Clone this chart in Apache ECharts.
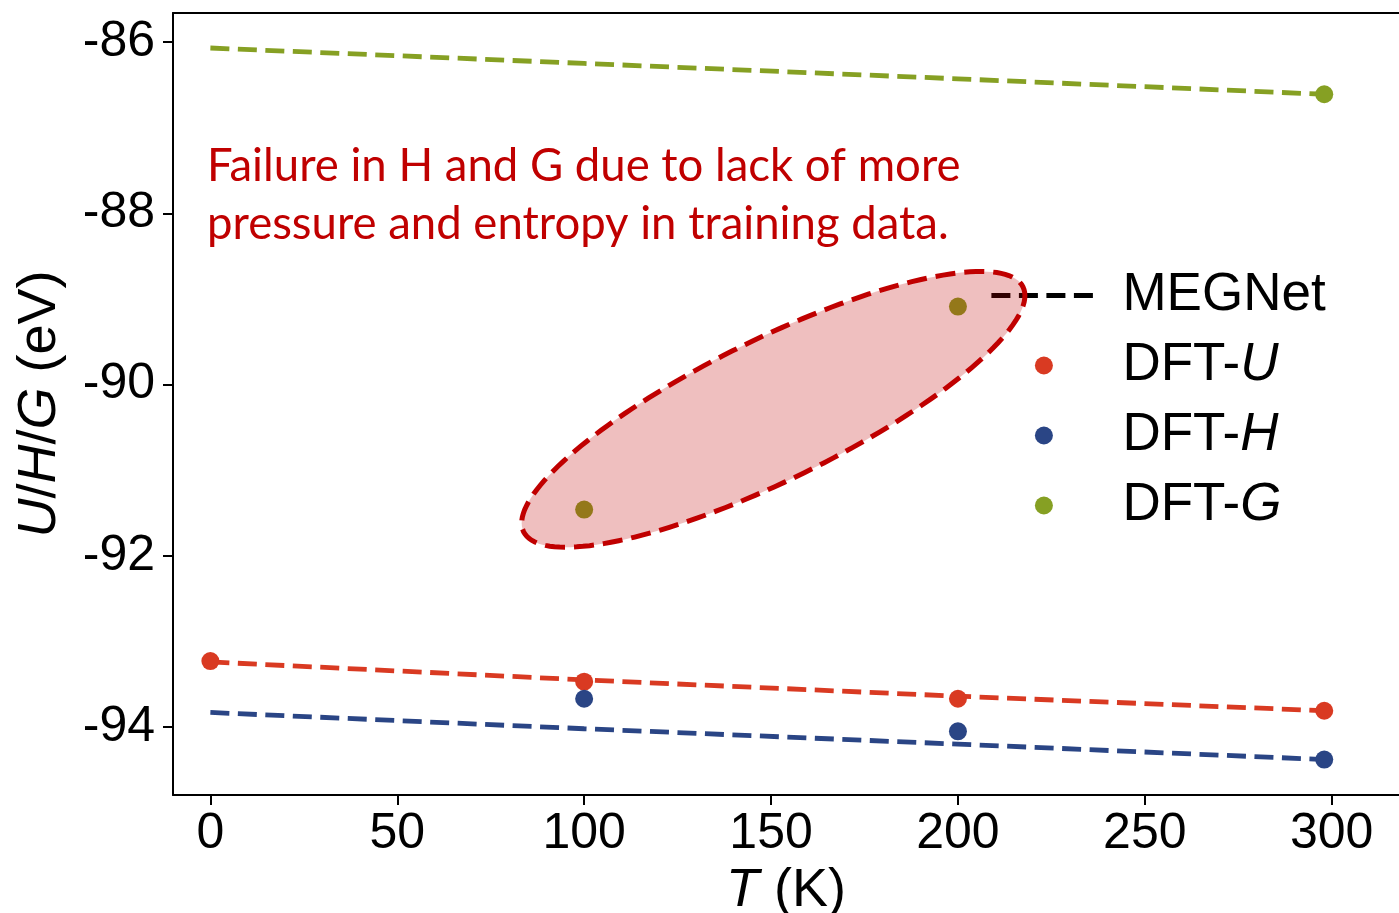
<!DOCTYPE html>
<html>
<head>
<meta charset="utf-8">
<script src="https://cdn.jsdelivr.net/npm/echarts@6/dist/echarts.min.js"></script>
<style>html,body{margin:0;padding:0;background:#fff;}#c{width:1399px;height:913px;}</style>
</head>
<body>
<div id="c"></div>
<script>
// ---- data ----
const xTicks = [0, 50, 100, 150, 200, 250, 300];
const yTicks = [-94, -92, -90, -88, -86];
const tMeg = [0, 100, 200, 298];
const megU = [-93.24, -93.45, -93.64, -93.81];
const megH = [-93.83, -94.02, -94.20, -94.38];
const megG = [-86.07, -86.25, -86.43, -86.61];
const tU = [0, 100, 200, 298];
const dftU = [-93.23, -93.47, -93.67, -93.81];
const tH = [100, 200, 298];
const dftH = [-93.67, -94.05, -94.38];
const tG = [100, 200, 298];
const dftG = [-91.46, -89.09, -86.61];
// annotation ellipse (data units): centre, major and minor half-axis vectors
const ellCenter = [150.6, -90.29];
const ellMajor = [66.8, 1.43];
const ellMinor = [8.3, -0.74];
const noteLines = ['Failure in H and G due to lack of more', 'pressure and entropy in training data.'];

const cRed = '#d93a22', cBlue = '#2a4585', cGreen = '#86a023';
const FONT = 'Liberation Sans';
const FS = 50;
const NFS = 54;
const LFS = 53;
const dash = [19, 8.5];

const zip = (a, b) => a.map((v, i) => [v, b[i]]);

const el = document.getElementById('c');
const chart = echarts.init(el, null, {renderer: 'canvas'});

const lineSeries = (name, xs, ys, color) => ({
  name, type: 'line', data: zip(xs, ys), showSymbol: false, symbol: 'none',
  lineStyle: {color, width: 4.8, type: dash}, itemStyle: {color}, z: 2, silent: true
});
const dotSeries = (name, xs, ys, color) => ({
  name, type: 'scatter', data: zip(xs, ys), symbol: 'circle', symbolSize: 18,
  itemStyle: {color, opacity: 1}, z: 3, silent: true
});

const option = {
  animation: false,
  backgroundColor: '#fff',
  grid: {left: 173, top: 13, right: 0, bottom: 118, containLabel: false, outerBoundsMode: 'none'},
  xAxis: [{
    type: 'value', min: -10, max: 318, position: 'bottom',
    axisLine: {show: true, onZero: false, lineStyle: {color: '#000', width: 2}},
    axisTick: {show: true, length: 10, lineStyle: {color: '#000', width: 2}, customValues: xTicks},
    axisLabel: {color: '#000', fontSize: FS, fontFamily: FONT, margin: 14, customValues: xTicks},
    splitLine: {show: false},
    name: '{i|T} (K)', nameLocation: 'middle', nameGap: 63,
    nameTextStyle: {color: '#000', fontSize: NFS, fontFamily: FONT,
      rich: {i: {fontStyle: 'italic', fontSize: NFS, fontFamily: FONT, color: '#000'}}}
  }, {
    type: 'value', min: -10, max: 318, position: 'top',
    axisLine: {show: true, onZero: false, lineStyle: {color: '#000', width: 2}},
    axisTick: {show: false}, axisLabel: {show: false}, splitLine: {show: false}
  }],
  yAxis: {
    type: 'value', min: -94.794, max: -85.661,
    axisLine: {show: true, onZero: false, lineStyle: {color: '#000', width: 2}},
    axisTick: {show: true, length: 10, lineStyle: {color: '#000', width: 2}, customValues: yTicks},
    axisLabel: {color: '#000', fontSize: FS, fontFamily: FONT, margin: 18, customValues: yTicks},
    splitLine: {show: false},
    name: '{i|U}/{i|H}/{i|G} (eV)', nameLocation: 'middle', nameGap: 106,
    nameTextStyle: {color: '#000', fontSize: NFS, fontFamily: FONT,
      rich: {i: {fontStyle: 'italic', fontSize: NFS, fontFamily: FONT, color: '#000'}}}
  },
  legend: {
    orient: 'vertical', left: 984, top: 264, itemGap: 17,
    itemWidth: 105, itemHeight: 18,
    data: [
      {name: 'MEGNet', itemStyle: {color: 'rgba(0,0,0,0)', borderWidth: 0, opacity: 0},
       lineStyle: {color: '#000', width: 4.8, type: dash}},
      {name: 'DFT-U'}, {name: 'DFT-H'}, {name: 'DFT-G'}
    ],
    formatter: function (name) {
      if (name === 'MEGNet') return '{n|MEGNet}';
      return '{n|DFT-}{i|' + name.slice(4) + '}';
    },
    textStyle: {
      color: '#000', fontSize: LFS, fontFamily: FONT, lineHeight: 50, padding: [0, 0, 0, 21],
      rich: {
        n: {fontSize: LFS, fontFamily: FONT, color: '#000', lineHeight: 50},
        i: {fontSize: LFS, fontFamily: FONT, color: '#000', fontStyle: 'italic', lineHeight: 50}
      }
    },
    selectedMode: false
  },
  graphic: [{
    type: 'text', left: 207, top: 137, z: 5,
    style: {
      text: noteLines.join('\n'), fill: '#c00000', font: '45.5px Lato', lineHeight: 58
    }
  }],
  series: [
    {name: 'MEGNet', type: 'line', data: [], symbol: 'none', lineStyle: {color: '#000', width: 4.8, type: dash}, itemStyle: {color: '#000'}},
    lineSeries('MEGNet-U', tMeg, megU, cRed),
    lineSeries('MEGNet-H', tMeg, megH, cBlue),
    lineSeries('MEGNet-G', tMeg, megG, cGreen),
    dotSeries('DFT-U', tU, dftU, cRed),
    dotSeries('DFT-H', tH, dftH, cBlue),
    dotSeries('DFT-G', tG, dftG, cGreen),
    {
      name: 'ellipse', type: 'custom', z: 10, silent: true, clip: false,
      data: [ellCenter],
      renderItem: function (params, api) {
        const pts = [];
        const N = 160;
        for (let k = 0; k < N; k++) {
          const t = 2 * Math.PI * k / N;
          const x = ellCenter[0] + ellMajor[0] * Math.cos(t) + ellMinor[0] * Math.sin(t);
          const y = ellCenter[1] + ellMajor[1] * Math.cos(t) + ellMinor[1] * Math.sin(t);
          pts.push(api.coord([x, y]));
        }
        return {
          type: 'polygon', shape: {points: pts},
          style: {fill: 'rgba(192,0,0,0.25)', stroke: '#c00000', lineWidth: 5, lineDash: [20, 9]}
        };
      }
    }
  ]
};
chart.setOption(option);
</script>
</body>
</html>
